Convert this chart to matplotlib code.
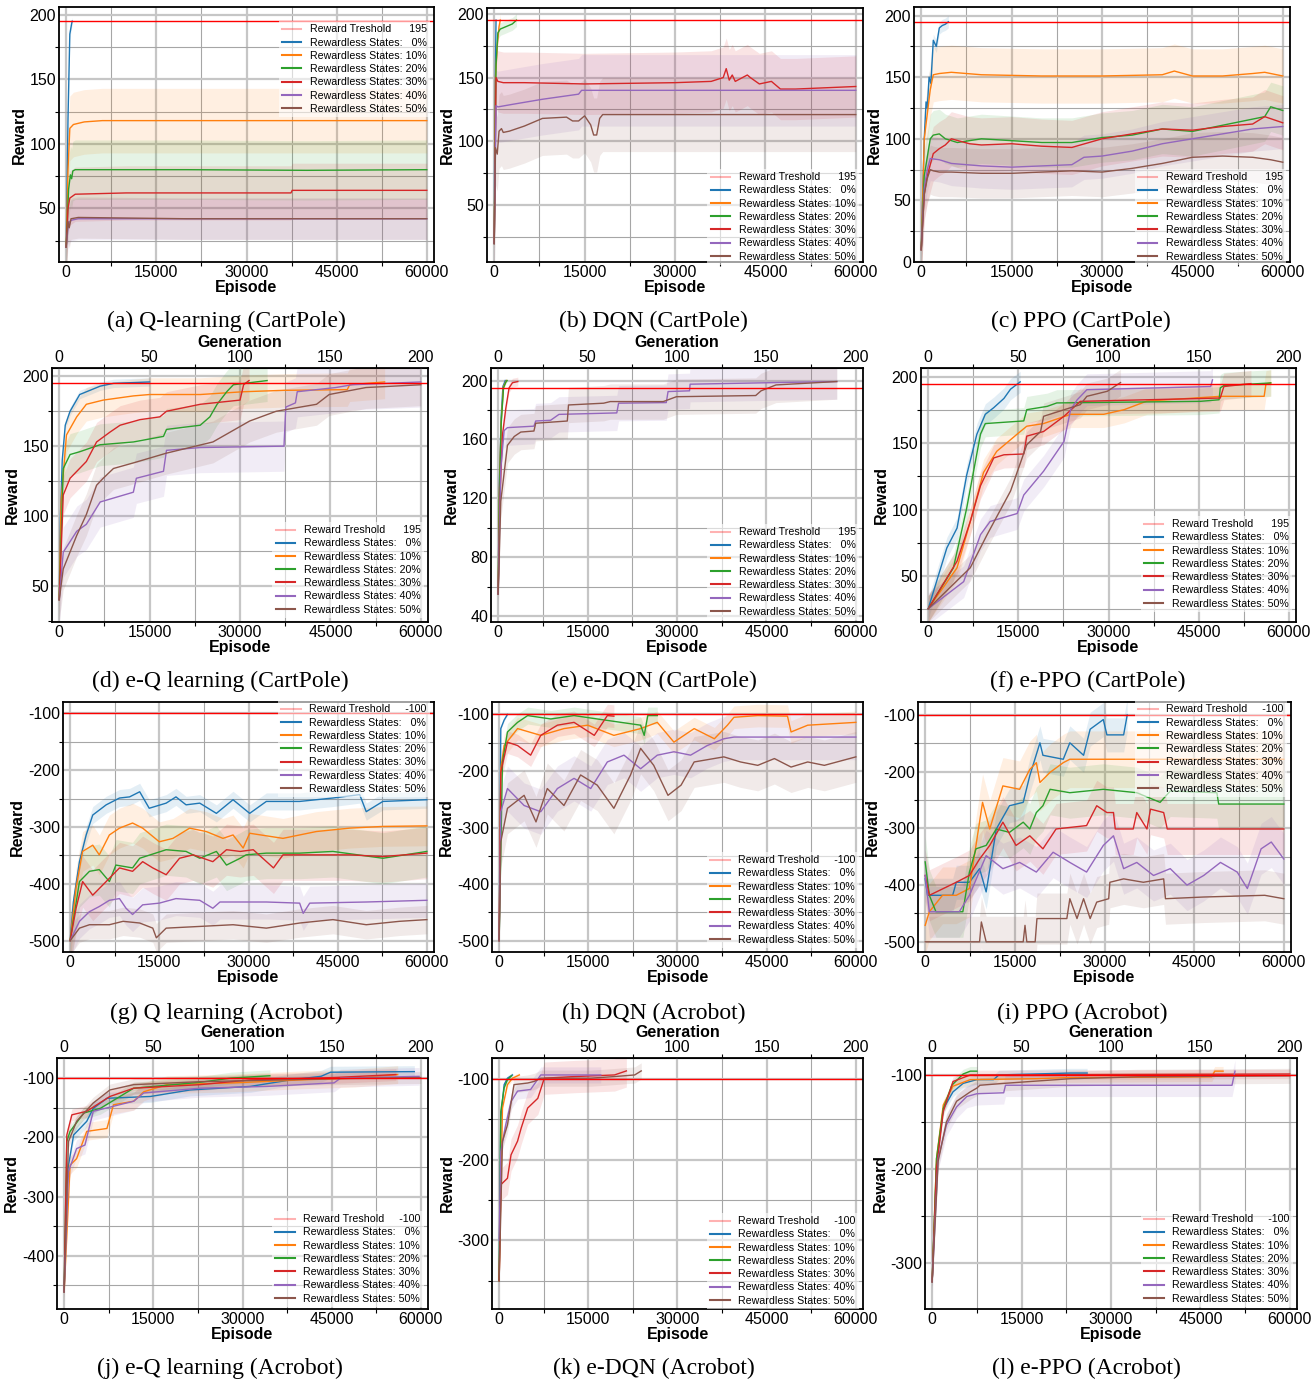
import numpy as np
import matplotlib.pyplot as plt
from matplotlib.lines import Line2D
from matplotlib.ticker import MultipleLocator

plt.rcParams['font.family'] = ['Liberation Sans', 'DejaVu Sans']
plt.rcParams['axes.unicode_minus'] = False

colors = ['#1f77b4', '#ff7f0e', '#2ca02c', '#d62728', '#9467bd', '#8c564b']
levels = ['  0%', '10%', '20%', '30%', '40%', '50%']

# ---------------- (a) Q-learning CartPole ----------------
qcart_x = [[0, 300, 600, 900, 1000],
           [0, 300, 600, 1200, 3000, 6000, 20000, 40000, 60000],
           [0, 400, 700, 900, 1100, 1500, 20000, 40000, 60000],
           [0, 300, 600, 1500, 10000, 30000, 37400, 37600, 50000, 60000],
           [0, 300, 600, 1000, 2000, 20000, 40000, 60000],
           [0, 300, 500, 800, 2000, 20000, 40000, 60000]]
qcart_y = [[20, 120, 185, 193, 195],
           [20, 80, 112, 115, 117, 118, 118, 118, 118],
           [20, 65, 76, 73, 79, 80, 80, 79.5, 80],
           [20, 50, 58, 61, 62, 62, 62, 64, 64, 64],
           [20, 35, 40, 41, 42, 42, 42, 42],
           [20, 40, 35, 42, 43, 42, 42, 42]]
qcart_band = [3, 25, 23, 21, 16, 16]

# ---------------- (b) DQN CartPole ----------------
dqncart_x = [[0, 100, 300],
             [0, 200, 500, 800, 1000],
             [0, 300, 600, 1000, 2000, 3000, 3700],
             [0, 300, 600, 1500, 5000, 15000, 30000, 36000, 38000, 38500, 39000, 39500, 40000,
              42000, 42500, 44000, 46000, 47500, 48000, 50000, 60000],
             [0, 300, 600, 3000, 8000, 14000, 14500, 60000],
             [0, 200, 500, 800, 1200, 1500, 2500, 5000, 8000, 12000, 13000, 14000, 15000,
              16000, 16500, 17000, 17500, 18000, 18500, 60000]]
dqncart_y = [[20, 120, 195],
             [20, 150, 175, 190, 195],
             [20, 160, 185, 188, 190, 192, 195],
             [20, 150, 147, 146, 146, 145, 146, 147, 150, 157, 148, 152, 147,
              152, 150, 145, 147, 141, 141, 141, 143],
             [20, 128, 127, 129, 133, 137, 140, 140],
             [20, 95, 90, 108, 110, 107, 108, 112, 118, 119, 116, 116, 120,
              113, 105, 105, 118, 121, 121, 121]]
dqncart_band = [0, 5, 5, 24, 28, 29]

# ---------------- (c) PPO CartPole ----------------
ppocart_x = [[0, 500, 800, 1000, 1300, 1600, 2000, 2500, 3000, 3500, 4000, 4500],
             [0, 500, 1000, 1500, 2000, 3000, 5000, 10000, 20000, 30000, 40000, 42000, 45000,
              50000, 55000, 57000, 60000],
             [0, 500, 1000, 1500, 2000, 3000, 4000, 6000, 10000, 20000, 25000, 30000, 35000,
              40000, 45000, 50000, 55000, 57000, 58000, 60000],
             [0, 500, 1000, 2000, 3000, 4000, 5000, 8000, 10000, 15000, 20000, 25000, 30000,
              35000, 40000, 45000, 50000, 55000, 57000, 60000],
             [0, 500, 1000, 1500, 3000, 5000, 10000, 15000, 20000, 25000, 27000, 30000, 35000,
              40000, 45000, 50000, 55000, 60000],
             [0, 500, 1000, 1500, 2000, 3000, 5000, 10000, 15000, 20000, 25000, 30000, 35000,
              40000, 45000, 50000, 55000, 58000, 60000]]
ppocart_y = [[10, 100, 130, 125, 150, 145, 180, 175, 190, 192, 193, 195],
             [10, 100, 120, 140, 152, 153, 154, 152, 151, 151, 152, 155, 151,
              151, 153, 154, 151],
             [10, 70, 85, 100, 103, 104, 100, 97, 100, 97, 97, 101, 103,
              108, 106, 111, 116, 118, 126, 123],
             [10, 55, 70, 88, 92, 95, 100, 96, 95, 96, 94, 93, 100,
              104, 108, 107, 110, 112, 118, 113],
             [10, 60, 75, 84, 83, 80, 78, 77, 78, 79, 85, 86, 90,
              96, 100, 104, 108, 110],
             [10, 55, 68, 75, 74, 73, 73, 72, 72, 73, 74, 73, 76,
              80, 85, 86, 85, 83, 81]]
ppocart_band = [5, 22, 20, 22, 18, 20]

# ---------------- (d) e-Q learning CartPole ----------------
eqcart_x = [[0, 200, 500, 1000, 1800, 3400, 6800, 9000, 15000],
            [0, 300, 1200, 2900, 4500, 7300, 12300, 15000, 23400, 30600, 37300, 47800, 48200, 54000],
            [0, 665, 1800, 3400, 6760, 12300, 17300, 17800, 23400, 25000, 26200, 27800, 28900, 34500],
            [0, 665, 1800, 4500, 6200, 8400, 10100, 13400, 16700, 17800, 23400, 30000, 30600, 31500],
            [0, 665, 2900, 4500, 6800, 12300, 12800, 17300, 17800, 23400, 37300, 37600, 39200,
             39500, 45900, 48600, 60000],
            [0, 665, 2900, 4500, 6200, 7300, 9000, 12300, 17800, 25500, 31600, 36000, 42700,
             44800, 50900, 60000]]
eqcart_y = [[40, 100, 140, 165, 175, 187, 193, 195, 196],
            [40, 110, 158, 171, 180, 183, 186, 187, 187, 189, 190, 190.5, 194, 196],
            [40, 134, 144, 146, 151, 153, 157, 162, 165, 171, 180, 189, 194, 197],
            [40, 115, 127, 139, 153, 160, 165, 169, 171, 175, 180, 183, 194, 197],
            [40, 74, 89, 94, 110, 117, 127, 132, 147, 149, 150, 178, 181,
             189, 192, 194, 196],
            [40, 62, 86, 101, 122, 127, 134, 138, 145, 153, 168, 175, 180,
             187, 192, 194]]
eqcart_band = [3, 12, 15, 14, 18, 15]

# ---------------- (e) e-DQN CartPole ----------------
edqncart_x = [[0, 200, 500, 800, 1200],
              [0, 200, 500, 900, 1400],
              [0, 200, 500, 900, 1300, 1500],
              [0, 300, 720, 1280, 1830, 2400, 3300],
              [0, 440, 1000, 1560, 6000, 6300, 8800, 10200, 19900, 20200, 28200, 28500, 32100,
               32200, 46600, 56800],
              [0, 440, 1560, 2700, 3800, 6000, 6300, 11600, 11800, 17700, 18800, 27700, 29900,
               43200, 44100, 46600, 56800]]
edqncart_y = [[55, 130, 175, 196, 200],
              [55, 125, 172, 196, 200],
              [55, 120, 170, 195, 199, 200],
              [55, 120, 163, 181, 195, 198.5, 199.3],
              [55, 140, 166, 168, 169, 172.5, 173, 177, 178, 184.6, 185, 192.5, 193,
               197.5, 198.6, 199.3],
              [55, 118, 156, 162, 165, 165.7, 171, 172.5, 183.4, 184.6, 185.7, 185.7, 189,
               189.8, 193, 197, 199.3]]
edqncart_band = [1, 1, 1, 3, 12, 12]

# ---------------- (f) e-PPO CartPole ----------------
eppocart_x = [[0, 3100, 4800, 6400, 8100, 9500, 10900, 12600, 13700, 15300],
              [0, 4800, 7000, 9200, 11400, 14800, 16400, 19200, 23700, 29200, 32600, 36400,
               48700, 55900, 56200, 57000],
              [0, 4200, 6400, 8700, 9500, 15900, 16400, 19800, 21400, 45300, 48400, 48600,
               49200, 57000],
              [0, 4800, 7000, 8700, 10900, 12600, 15900, 16400, 19200, 22600, 25300, 48600,
               49200, 53700],
              [0, 5900, 8700, 10300, 14800, 15900, 19200, 22600, 23700, 24800, 26400, 47000, 47300],
              [0, 7000, 9800, 13700, 16400, 18700, 19200, 21400, 25300, 26400, 29800, 32000]]
eppocart_y = [[25, 71, 86, 126, 157, 172, 177, 184, 191, 196.5],
              [25, 56, 91, 128, 144, 157, 163, 165, 172, 172, 175.5, 182,
               185.6, 185.6, 195, 195.7],
              [25, 56, 101, 157, 165, 167, 175.5, 178, 180.6, 181.8, 183, 192,
               193.7, 195.7],
              [25, 61, 91, 118, 139, 141.4, 142, 155.5, 159, 170.5, 181.8, 184.3,
               193, 195.2],
              [25, 45.5, 81, 91, 97, 111, 129, 151.5, 175.5, 183, 190.6, 193, 198],
              [25, 56, 81, 114, 149, 159, 170.5, 173.7, 179.3, 185.6, 189.4, 196]]
eppocart_band = [8, 10, 10, 10, 12, 10]

# ---------------- (g) Q learning Acrobot ----------------
qacro_x = [[0, 560, 1570, 2700, 3800, 6060, 8300, 10000, 11700, 13300, 16150, 17800, 19500,
            21800, 24600, 27400, 30200, 33000, 38600, 44200, 48700, 49800, 52600, 60000],
           [0, 1000, 2100, 3800, 4900, 6600, 8300, 10500, 12200, 15000, 17300, 20100, 22900,
            25700, 27400, 29100, 30200, 35800, 41400, 47000, 52600, 60000],
           [0, 1570, 3250, 4900, 6600, 7700, 10500, 11700, 16150, 19500, 21800, 24600, 26300,
            28600, 29600, 33000, 38600, 44200, 52600, 60000],
           [0, 1000, 2100, 3800, 6060, 8300, 10500, 12200, 13900, 16150, 18400, 20700, 24000,
            26300, 28600, 30800, 34200, 35800, 41400, 47000, 52600, 60000],
           [0, 1570, 3250, 4900, 6600, 8300, 9400, 10500, 12200, 15000, 17800, 21800, 24000,
            25200, 33000, 38600, 39200, 40300, 49800, 60000],
           [0, 1570, 3250, 6600, 8900, 11700, 13900, 14500, 16150, 21800, 27400, 33000, 38600,
            44200, 49800, 55400, 60000]]
qacro_y = [[-500, -431, -361, -314, -279, -261, -249, -247, -238, -267, -258, -247, -261,
            -258, -276, -252, -276, -255, -255, -249, -243, -273, -255, -252],
           [-500, -407, -343, -332, -349, -314, -302, -293, -302, -326, -320, -302, -308,
            -320, -314, -337, -311, -320, -308, -302, -299, -298],
           [-500, -396, -378, -375, -396, -367, -372, -355, -340, -343, -355, -343, -367,
            -355, -349, -346, -346, -343, -355, -343],
           [-500, -443, -396, -420, -396, -372, -378, -361, -372, -384, -355, -349, -361,
            -340, -343, -340, -372, -349, -349, -349, -352, -346],
           [-500, -466, -449, -440, -429, -426, -443, -454, -437, -434, -426, -429, -443,
            -432, -432, -434, -452, -434, -432, -429],
           [-500, -478, -472, -472, -466, -469, -478, -495, -478, -475, -472, -478, -469,
            -463, -472, -466, -463]]
qacro_band = [15, 35, 45, 45, 30, 25]

# ---------------- (h) DQN Acrobot ----------------
dqnacro_x = [[0, 280, 840, 1400],
             [0, 280, 840, 3100, 7000, 10900, 14900, 19300, 23800, 26600, 29400, 32800, 36200,
              38400, 39500, 43500, 48500, 49100, 51900, 60000],
             [0, 560, 1400, 3100, 4800, 8700, 12600, 16500, 20500, 23800, 24400, 25000, 26600],
             [0, 280, 1400, 3100, 5300, 7000, 9800, 12600, 16000, 18200, 19300],
             [0, 280, 1400, 4200, 7000, 9800, 12600, 15400, 18200, 21000, 23800, 26600, 29400,
              32200, 35000, 37800, 39500, 60000],
             [0, 280, 1400, 4200, 6200, 8100, 10900, 13700, 16500, 19300, 22100, 23800, 26000,
              28400, 30600, 32800, 37800, 40600, 43500, 46300, 49100, 51900, 54700, 60000]]
dqnacro_y = [[-500, -125, -110, -100],
             [-500, -196, -155, -125, -137, -125, -119, -137, -125, -114, -149, -125, -143,
              -119, -105, -102, -103, -131, -119, -114],
             [-500, -184, -131, -114, -102, -108, -102, -108, -114, -119, -137, -102, -102],
             [-500, -202, -149, -155, -172, -137, -119, -114, -137, -102, -103],
             [-500, -272, -231, -261, -272, -231, -213, -231, -184, -172, -196, -172, -166,
              -172, -155, -143, -140, -140],
             [-500, -325, -266, -243, -290, -231, -261, -207, -225, -266, -207, -160, -190,
              -243, -225, -184, -175, -184, -190, -178, -193, -184, -190, -175]]
dqnacro_band = [2, 20, 15, 20, 40, 45]

# ---------------- (i) PPO Acrobot ----------------
ppoacro_x = [[0, 400, 4600, 5200, 7400, 9100, 10200, 11900, 14100, 16400, 17500, 19200, 19700,
              23100, 24200, 26500, 27600, 29800, 30400, 33200, 33800],
             [0, 700, 2900, 5200, 7400, 9600, 10800, 13000, 15800, 17500, 18600, 19200, 20900,
              23100, 24200, 60000],
             [0, 700, 1800, 6300, 7400, 8500, 10200, 11900, 14100, 16400, 17500, 18600, 19700,
              20900, 24200, 29800, 35400, 39300, 41000, 48800, 49100, 60000],
             [0, 700, 5200, 7400, 9100, 10800, 13000, 15200, 17500, 19700, 21900, 27000, 28700,
              30400, 31500, 31800, 34800, 35400, 37100, 37700, 39900, 40500, 60000],
             [0, 700, 5700, 7400, 10200, 13000, 15800, 18600, 21400, 24200, 27000, 29800, 31500,
              33200, 35400, 38200, 41000, 43800, 46600, 49400, 52200, 53900, 56200, 57900, 60000],
             [0, 9100, 9400, 10200, 16400, 16700, 17000, 18400, 18700, 23700, 24200, 25400,
              26500, 27600, 28700, 30700, 30900, 33200, 36500, 39900, 40200, 46600, 56800, 60000]]
ppoacro_y = [[-389, -418, -418, -395, -395, -371, -412, -301, -260, -254, -207, -149, -171,
              -178, -149, -171, -125, -108, -135, -135, -100],
             [-471, -447, -418, -418, -406, -254, -301, -225, -231, -196, -184, -219, -201,
              -184, -178, -178],
             [-359, -418, -447, -447, -377, -336, -330, -301, -307, -289, -301, -272, -260,
              -231, -237, -231, -237, -254, -234, -237, -257, -257],
             [-383, -418, -395, -383, -354, -330, -289, -330, -313, -336, -301, -295, -260,
              -272, -272, -301, -301, -272, -301, -266, -272, -301, -301],
             [-383, -447, -447, -418, -348, -371, -360, -377, -342, -360, -377, -330, -313,
              -371, -360, -383, -371, -400, -383, -360, -377, -406, -336, -324, -354],
             [-500, -500, -465, -500, -500, -471, -500, -500, -459, -459, -424, -459,
              -424, -459, -430, -424, -395, -389, -395, -389, -424, -421, -418, -424]]
ppoacro_band = [30, 50, 45, 45, 45, 45]

# ---------------- (j) e-Q learning Acrobot ----------------
eqacro_x = [[0, 450, 1600, 3800, 4900, 7200, 14500, 21200, 31300, 38100, 43200, 44800, 58900],
            [0, 1000, 2100, 3800, 7200, 8300, 11700, 13400, 17300, 28500, 39800, 48800, 56100],
            [0, 450, 1000, 3300, 6100, 8900, 11700, 22900, 28000, 34600],
            [0, 450, 1300, 3800, 7700, 11700, 22900, 31300, 45400, 55800],
            [0, 730, 2100, 3500, 4900, 11700, 13400, 22900, 34100, 45400, 46500, 59700],
            [0, 730, 2100, 4900, 7700, 11700, 22900, 45400, 60000]]
eqacro_y = [[-461, -264, -196, -173, -151, -134, -131, -120, -114, -103, -97, -90, -89],
            [-461, -247, -236, -190, -185, -145, -139, -123, -111, -108, -103, -100, -94],
            [-461, -207, -190, -159, -151, -134, -117, -107, -100, -96],
            [-461, -196, -162, -156, -131, -117, -111, -103, -99, -94],
            [-461, -258, -219, -213, -156, -139, -125, -117, -114, -108, -100, -97],
            [-461, -207, -173, -142, -120, -111, -106, -101, -99]]
eqacro_band = [10, 15, 10, 10, 15, 10]

# ---------------- (k) e-DQN Acrobot ----------------
edqnacro_x = [[0, 280, 840, 1400, 2250],
              [0, 560, 1400, 2250, 3400],
              [0, 280, 840, 1400, 2100],
              [0, 280, 1400, 2000, 3100, 3700, 4800, 6500, 7600, 12700, 19400, 21400],
              [0, 280, 1100, 2000, 3100, 5300, 7000, 17100],
              [0, 560, 1400, 2500, 4800, 5900, 7000, 15400, 19400, 22800, 23900]]
edqnacro_y = [[-350, -148, -107, -99, -95],
              [-350, -136, -107, -99, -95],
              [-350, -140, -111, -101, -96],
              [-350, -231, -223, -194, -177, -161, -136, -124, -99, -97, -95, -90],
              [-300, -190, -157, -128, -115, -113, -95, -95],
              [-350, -177, -157, -107, -105, -103, -99, -99, -97, -95, -90]]
edqnacro_band = [3, 3, 3, 20, 10, 10]

# ---------------- (l) e-PPO Acrobot ----------------
eppoacro_x = [[0, 730, 1860, 3500, 5200, 7500, 10300, 11200, 23200, 26000],
              [0, 730, 1860, 3500, 6400, 17600, 22100, 46900, 47400, 48800],
              [0, 730, 1860, 3300, 5200, 6400, 7500],
              [0, 730, 1860, 3500, 6400, 60000],
              [0, 1000, 2400, 4100, 5800, 7500, 12000, 12300, 50300, 50800],
              [0, 1000, 2400, 4100, 6400, 7500, 8000, 12000, 23200, 34400, 60000]]
eppoacro_y = [[-320, -196, -136, -118, -109, -105, -105, -100, -98, -98],
              [-320, -189, -132, -112, -105, -104, -103, -102, -96, -96],
              [-320, -189, -136, -111, -99, -96, -96],
              [-320, -199, -139, -107, -100, -99],
              [-320, -189, -153, -134, -123, -120, -119, -111, -111, -96],
              [-320, -192, -150, -128, -118, -114, -111, -109, -104, -102, -101]]
eppoacro_band = [5, 5, 5, 5, 12, 8]

W, H = 1312, 1382
fig = plt.figure(figsize=(W / 100, H / 100), dpi=100)

# (left, right, top, bottom) px, data, threshold, ylim, tick step, legend loc, legend shift px, evo, caption, x/y
panels = [
    ((59, 434, 7, 262), qcart_x, qcart_y, qcart_band, 195, (8.5, 206), 50, 'upper right', 10, False,
     '(a) Q-learning (CartPole)', 226, 321),
    ((487, 863, 8, 262), dqncart_x, dqncart_y, dqncart_band, 195, (5.5, 204.5), 50, 'lower right', 7, False,
     '(b) DQN (CartPole)', 653, 321),
    ((914, 1290, 7, 262), ppocart_x, ppocart_y, ppocart_band, 195, (0, 207), 50, 'lower right', 7, False,
     '(c) PPO (CartPole)', 1081, 321),
    ((52, 428, 368, 622), eqcart_x, eqcart_y, eqcart_band, 195, (24, 206), 50, 'lower right', 0, True,
     '(d) e-Q learning (CartPole)', 220, 681),
    ((491, 863, 368, 622), edqncart_x, edqncart_y, edqncart_band, 195, (36, 208.5), 40, 'lower right', 2, True,
     '(e) e-DQN (CartPole)', 654, 681),
    ((921, 1296, 368, 622), eppocart_x, eppocart_y, eppocart_band, 195, (15, 207), 50, 'lower right', -6, True,
     '(f) e-PPO (CartPole)', 1088, 681),
    ((63, 434, 702, 952), qacro_x, qacro_y, qacro_band, -100, (-520, -80), 100, 'upper right', -5, False,
     '(g) Q learning (Acrobot)', 226, 1013),
    ((492, 863, 702, 952), dqnacro_x, dqnacro_y, dqnacro_band, -100, (-520, -78), 100, 'lower right', 0, False,
     '(h) DQN (Acrobot)', 654, 1013),
    ((918, 1291, 702, 952), ppoacro_x, ppoacro_y, ppoacro_band, -100, (-518, -77), 100, 'upper right', -5, False,
     '(i) PPO (Acrobot)', 1082, 1013),
    ((57, 428, 1058, 1309), eqacro_x, eqacro_y, eqacro_band, -100, (-490, -66), 100, 'lower right', 2, True,
     '(j) e-Q learning (Acrobot)', 220, 1368),
    ((492, 863, 1058, 1309), edqnacro_x, edqnacro_y, edqnacro_band, -100, (-385, -74), 100, 'lower right', 4, True,
     '(k) e-DQN (Acrobot)', 654, 1368),
    ((925, 1297, 1058, 1309), eppoacro_x, eppoacro_y, eppoacro_band, -100, (-349, -82), 100, 'lower right', 2, True,
     '(l) e-PPO (Acrobot)', 1086, 1368),
]

for (l, r, t, b), xs, ys, bands, thr, ylim, step, loc, dy, evo, cap, cx, cy in panels:
    ax = fig.add_axes([l / W, 1 - b / H, (r - l) / W, (b - t) / H])
    for x, y, bw, c in zip(xs, ys, bands, colors):
        x = np.array(x, dtype=float)
        y = np.array(y, dtype=float)
        ax.fill_between(x, y - bw, y + bw, color=c, alpha=0.12, lw=0)
        ax.plot(x, y, color=c, lw=1.0)
    ax.axhline(thr, color='red', lw=1.0)

    ax.set_xlim(-1200, 61200)
    ax.set_ylim(*ylim)
    ax.set_xticks([0, 15000, 30000, 45000, 60000])
    ax.xaxis.set_minor_locator(MultipleLocator(7500))
    ax.yaxis.set_major_locator(MultipleLocator(step))
    ax.yaxis.set_minor_locator(MultipleLocator(step / 2))
    ax.set_axisbelow(True)
    ax.grid(which='major', color='#c6c6c6', lw=1.6)
    ax.grid(which='minor', color='#a6a6a6', lw=0.8)
    ax.tick_params(which='major', length=0, labelsize=11.5, pad=2)
    ax.tick_params(which='minor', length=3, width=0.8)
    for s in ax.spines.values():
        s.set_linewidth(1.3)
    ax.set_xlabel('Episode', fontweight='bold', fontsize=11.5, labelpad=0)
    ax.set_ylabel('Reward', fontweight='bold', fontsize=11.5, labelpad=2)

    if evo:
        sec = ax.secondary_xaxis('top', functions=(lambda e: e / 300, lambda g: g * 300))
        sec.set_xticks([0, 50, 100, 150, 200])
        sec.xaxis.set_minor_locator(MultipleLocator(25))
        sec.tick_params(which='major', length=0, labelsize=11.5, pad=2)
        sec.tick_params(which='minor', length=3, width=0.8)
        sec.set_xlabel('Generation', fontweight='bold', fontsize=11.5, labelpad=2)

    tlabel = 'Reward Treshold      %d' % thr if thr > 0 else 'Reward Treshold     %d' % thr
    handles = [Line2D([], [], color='red', alpha=0.3, lw=1.5)]
    handles += [Line2D([], [], color=c, lw=1.5) for c in colors]
    labels = [tlabel] + ['Rewardless States: ' + v for v in levels]
    anchor_y = (1.0 if loc.startswith('upper') else 0.0) - dy / (b - t)
    leg = ax.legend(handles, labels, loc=loc, bbox_to_anchor=(1.0, anchor_y),
                    fontsize=7.7, handlelength=1.8,
                    labelspacing=0.3, borderaxespad=0.4, borderpad=0.3,
                    handletextpad=0.8, framealpha=0.6, fancybox=False)
    leg.get_frame().set_edgecolor('none')

    fig.text(cx / W, 1 - cy / H, cap, ha='center', va='center',
             family='Liberation Serif', fontsize=17)

fig.savefig('out.png', dpi=100)
